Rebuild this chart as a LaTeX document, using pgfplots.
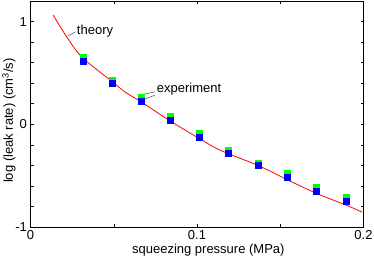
\documentclass[border=0pt]{standalone}
\usepackage{fontspec}
\setmainfont{Liberation Sans}
\usepackage{pgfplots}
\pgfplotsset{compat=1.18}
\begin{document}
\begin{tikzpicture}[font=\fontsize{13}{15}\selectfont]
\begin{axis}[
  scale only axis,
  width=333pt, height=226pt,
  xmin=0, xmax=0.2, ymin=-1, ymax=1.2,
  xtick={0,0.1,0.2}, xticklabels={0,0.1,0.2},
  ytick={-1,0,1}, yticklabels={-1,0,1},
  minor x tick num=1, minor y tick num=4,
  tick align=inside,
  major tick length=3pt, minor tick length=3pt,
  axis line style={line width=0.8pt},
  every tick/.style={black, line width=0.5pt},
  /pgf/number format/assume math mode=true,
  xlabel={squeezing pressure (MPa)},
  ylabel={log (leak rate) (cm\textsuperscript{3}/s)},
  xlabel style={at={(axis description cs:0.534,0)}, anchor=north, yshift=-14pt},
  ylabel style={at={(axis description cs:-0.0646,0.471)}, anchor=center},
  clip=false,
]
\addplot[red, line width=0.8pt, smooth, no marks] coordinates {
(0.0136,1.063) (0.022,0.845) (0.0311,0.65) (0.0491,0.415) (0.0571,0.31)
(0.0661,0.222) (0.0841,0.03) (0.1015,-0.14) (0.1141,-0.254) (0.1365,-0.40)
(0.1542,-0.54) (0.1722,-0.676) (0.190,-0.79) (0.1992,-0.856)};
\addplot[only marks, mark=square*, mark size=3pt, color={rgb,255:red,0;green,255;blue,0}] coordinates {
(0.0314,0.648) (0.049,0.43) (0.0665,0.265) (0.084,0.078) (0.1015,-0.09)
(0.119,-0.25) (0.1365,-0.377) (0.154,-0.473) (0.1718,-0.61) (0.1896,-0.707)};
\addplot[only marks, mark=square*, mark size=3pt, color={rgb,255:red,0;green,0;blue,255}] coordinates {
(0.0314,0.618) (0.049,0.397) (0.0665,0.224) (0.084,0.039) (0.1015,-0.13)
(0.119,-0.28) (0.1365,-0.40) (0.154,-0.514) (0.1718,-0.653) (0.1896,-0.748)};
\draw[black!70, line width=0.5pt] (axis cs:0.0224,0.859) -- (axis cs:0.027,0.90);
\node[anchor=west, inner sep=0pt] at (axis cs:0.0278,0.91) {theory};
\draw[black!70, line width=0.5pt] (axis cs:0.0671,0.29) -- (axis cs:0.0747,0.315);
\draw[black!70, line width=0.5pt] (axis cs:0.068,0.241) -- (axis cs:0.0747,0.283);
\node[anchor=west, inner sep=0pt] at (axis cs:0.0758,0.341) {experiment};
\end{axis}
\pgfresetboundingbox
\path[use as bounding box] ([xshift=-30.5pt,yshift=-31pt]current axis.south west) rectangle ([xshift=10.5pt,yshift=1pt]current axis.north east);
\end{tikzpicture}
\end{document}
